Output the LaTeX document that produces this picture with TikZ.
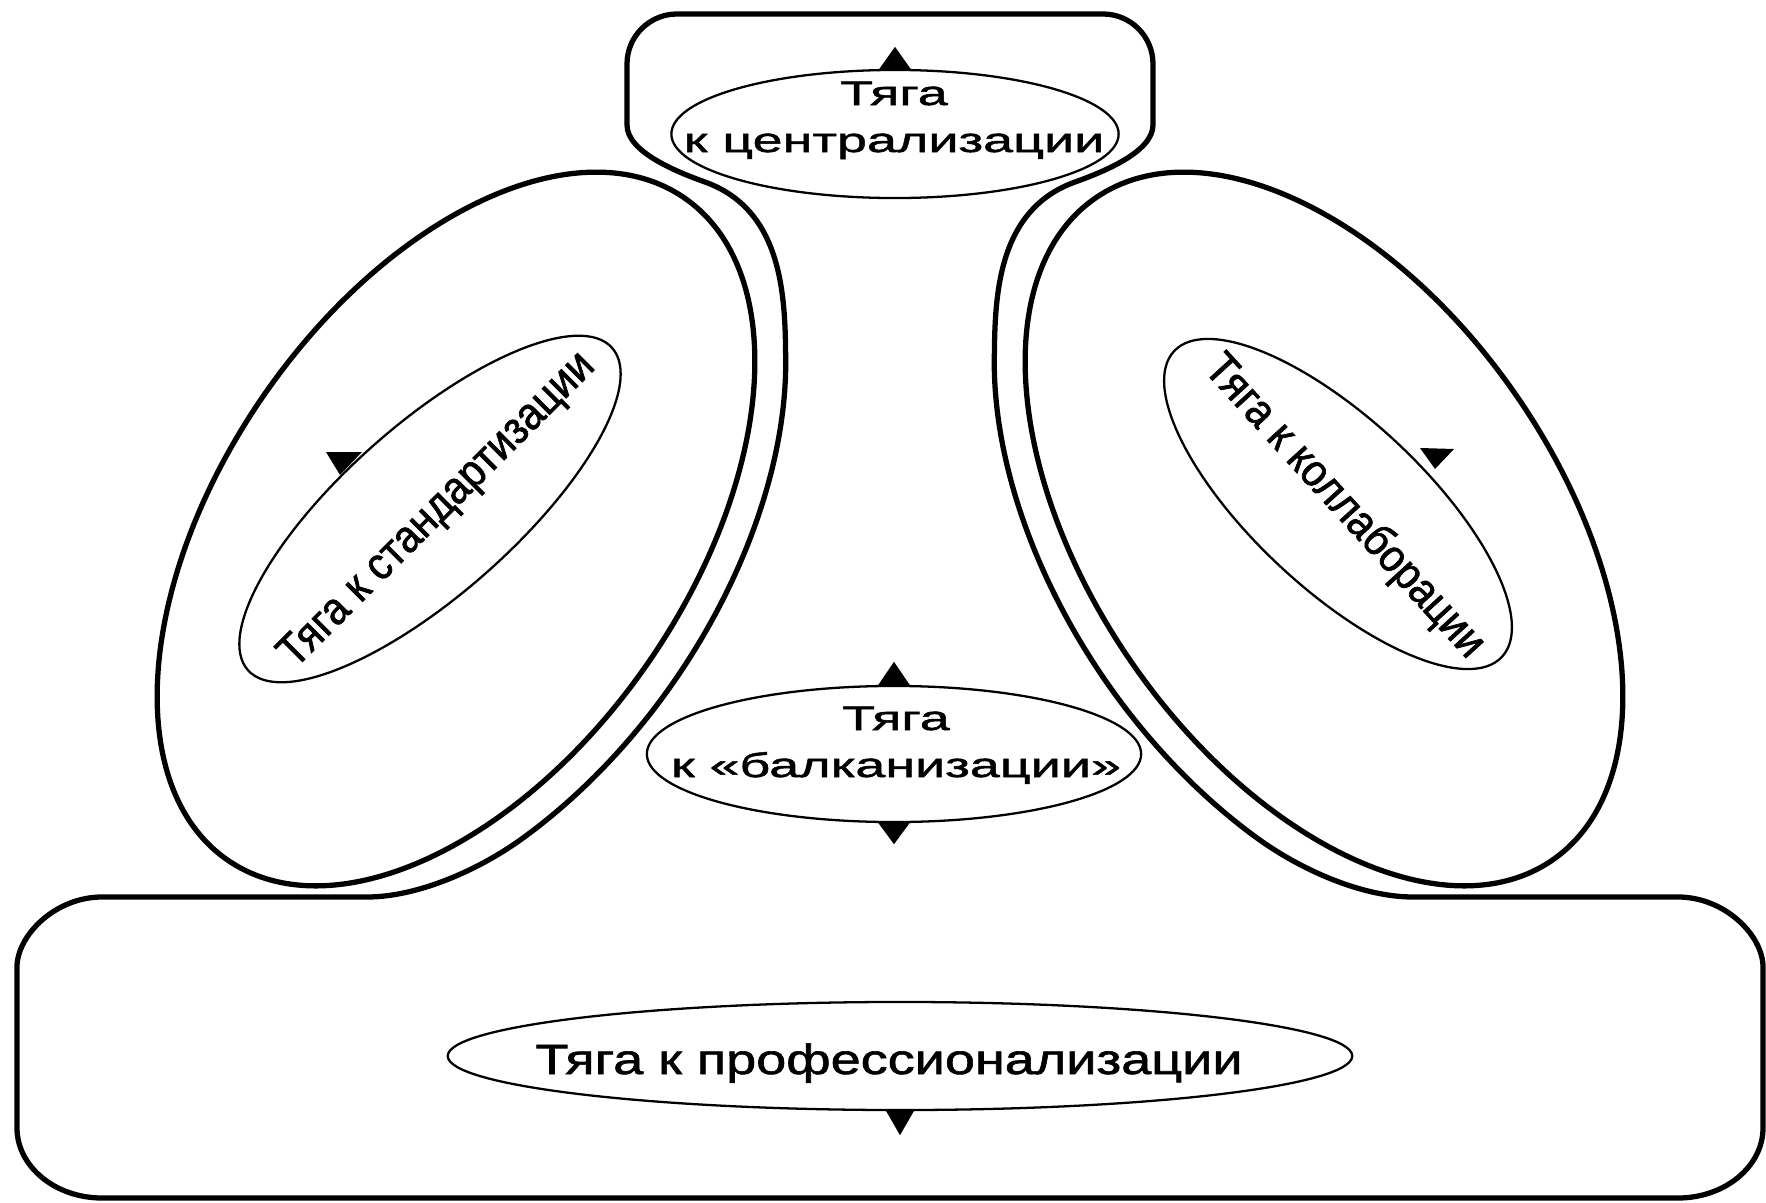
\documentclass[tikz,border=0pt]{standalone}
\usepackage{fontspec}
\setmainfont{Liberation Sans}
\newfontfamily\widefont[FakeStretch=1.58,FakeBold=1.5]{Liberation Sans}
\newfontfamily\bottomfont[FakeStretch=1.28,FakeBold=1.5]{Liberation Sans}
\newfontfamily\slantfont[FakeStretch=0.9,FakeBold=1.5]{Liberation Sans}
\usetikzlibrary{shapes.geometric,calc}
\begin{document}
\begin{tikzpicture}[x=0.01cm,y=-0.01cm,
  contour/.style={line width=1.5pt, line join=round},
  bigoval/.style={draw, ellipse, line width=1.5pt, inner sep=0pt},
  oval/.style={draw, ellipse, line width=0.65pt, inner sep=0pt},
  wtxt/.style={font=\widefont\fontsize{9.7pt}{13pt}\selectfont, inner sep=0pt, anchor=base},
  btxt/.style={font=\bottomfont\fontsize{12pt}{14pt}\selectfont, inner sep=0pt, anchor=base},
  rtxt/.style={font=\slantfont\fontsize{12.9pt}{14pt}\selectfont, inner sep=0pt},
  tri/.style={fill=black}]
\useasboundingbox (0,0) rectangle (1766,1203);
\fill[white] (0,0) rectangle (1766,1203);

% outer contour: top box, two rails, bottom box
\draw[contour] (627,125) -- (627,64)
  .. controls (627,36.4) and (649.4,14) .. (677,14) -- (1103,14)
  .. controls (1130.6,14) and (1153,36.4) .. (1153,64) -- (1153,125)
  .. controls (1153,152) and (1103,172) .. (1075,182)
  .. controls (1000,209) and (995,290) .. (994.4,352.5)
  .. controls (992.2,433.7) and (1017.5,526.9) .. (1065.6,615.8)
  .. controls (1113.7,704.7) and (1181.8,783.5) .. (1257.7,838.5)
  .. controls (1302.2,870.7) and (1363,897) .. (1413,897) -- (1678,897)
  .. controls (1725,897) and (1763,935.6) .. (1763,967) -- (1763,1128)
  .. controls (1763,1166.4) and (1725,1198) .. (1678,1198) -- (102,1198)
  .. controls (55,1198) and (17,1166.4) .. (17,1128) -- (17,967)
  .. controls (17,935.6) and (55,897) .. (102,897) -- (367,897)
  .. controls (417,897) and (477.8,870.7) .. (522.3,838.5)
  .. controls (598.2,783.5) and (666.3,704.7) .. (714.4,615.8)
  .. controls (762.5,526.9) and (787.8,433.7) .. (785.6,352.5)
  .. controls (785,290) and (780,209) .. (705,182)
  .. controls (677,172) and (627,152) .. (627,125) -- cycle;

% big side ovals
\node[bigoval, minimum width=8.04cm, minimum height=4.68cm, rotate=55.4] (lout) at (456,529) {};
\node[bigoval, minimum width=8.04cm, minimum height=4.68cm, rotate=-55.4] (rout) at (1324,529) {};

% inner ovals
\node[oval, minimum width=4.86cm, minimum height=1.7cm, rotate=41.5] (lin) at (430,509) {};
\node[oval, minimum width=4.48cm, minimum height=1.7cm, rotate=-43] (rin) at (1338,504) {};
\node[oval, minimum width=4.47cm, minimum height=1.28cm] (ctop) at (895,134) {};
\node[oval, minimum width=4.94cm, minimum height=1.36cm] (cmid) at (894,754) {};
\node[oval, minimum width=9.04cm, minimum height=1.08cm] (cbot) at (900,1056) {};

% texts
\node[wtxt] (ttop1) at (894,105) {Тяга};
\node[wtxt] (ttop2) at (894,152) {к централизации};
\node[wtxt] (tmid1) at (896,730) {Тяга};
\node[wtxt] (tmid2) at (896,777) {к «балканизации»};
\node[btxt] (tbot) at (889,1074) {Тяга к профессионализации};
\node[rtxt, rotate=45] (tstd) at (438,511) {Тяга к стандартизации};
\node[rtxt, rotate=-47.6] (tcol) at (1344,507) {Тяга к коллаборации};

% markers
\fill[tri] ($(ctop.north)+(-17,2)$) -- ($(ctop.north)+(17,2)$) -- ($(ctop.north)+(0,-22)$) -- cycle;
\fill[tri] ($(cmid.north)+(-17,2)$) -- ($(cmid.north)+(17,2)$) -- ($(cmid.north)+(0,-23)$) -- cycle;
\fill[tri] ($(cmid.south)+(-17,-2)$) -- ($(cmid.south)+(17,-2)$) -- ($(cmid.south)+(0,21)$) -- cycle;
\fill[tri] ($(cbot.south)+(-15,-2)$) -- ($(cbot.south)+(15,-2)$) -- ($(cbot.south)+(0,24)$) -- cycle;
\coordinate (lm) at (344,463);
\coordinate (rm) at (1437,458);
\fill[tri] ($(lm)+(-18,-11)$) -- ($(lm)+(18,-11)$) -- ($(lm)+(-4,12)$) -- cycle;
\fill[tri] ($(rm)+(-17,-10)$) -- ($(rm)+(17,-9)$) -- ($(rm)+(-2,11)$) -- cycle;
\end{tikzpicture}
\end{document}
